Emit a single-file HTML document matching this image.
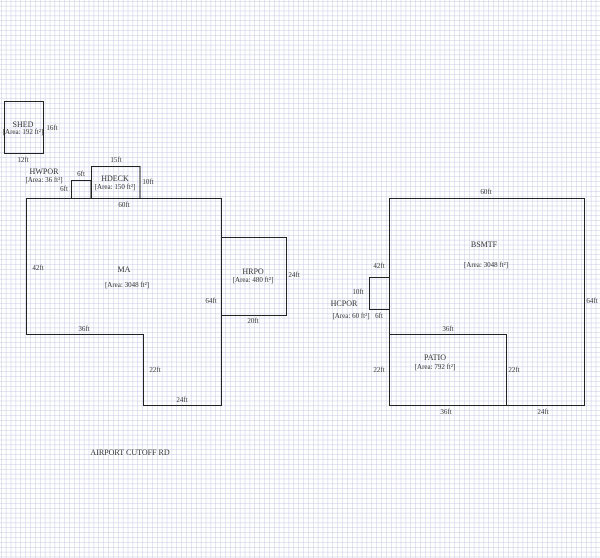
<!DOCTYPE html>
<html><head><meta charset="utf-8"><style>
html,body{margin:0;padding:0;background:#fff}
svg{display:block}
text{font-family:"Liberation Serif",serif;font-size:7px;fill:#333;text-anchor:middle}
.n{font-size:8px}
</style></head><body>
<svg width="600" height="558" xmlns="http://www.w3.org/2000/svg">
<defs><pattern id="g" x="1" y="1" width="4.875" height="4.875" patternUnits="userSpaceOnUse">
<path d="M0 0V4.875M0 0H4.875" stroke="#c6cae6" stroke-width="1" fill="none"/></pattern></defs>
<rect width="600" height="558" fill="url(#g)"/>
<g fill="none" stroke="#222" stroke-width="1">
<rect x="4.5" y="101.5" width="39" height="52"/>
<rect x="71.5" y="180.5" width="19.5" height="18"/>
<rect x="91.5" y="166.5" width="48.5" height="32"/>
<path d="M26.5 198.5H221.5V405.5H143.5V334.5H26.5Z"/>
<rect x="221.5" y="237.5" width="65" height="78"/>
<rect x="389.5" y="198.5" width="195" height="207"/>
<rect x="389.5" y="334.5" width="117" height="71"/>
<rect x="369.5" y="277.5" width="20" height="32"/>
</g>
<text class="n" x="23" y="127">SHED</text><text x="23" y="134">[Area: 192 ft²]</text>
<text x="52" y="130">16ft</text><text x="23" y="162">12ft</text>
<text class="n" x="44" y="174">HWPOR</text><text x="44" y="182">[Area: 36 ft²]</text>
<text x="81" y="176">6ft</text><text x="64" y="191">6ft</text>
<text x="116" y="162">15ft</text>
<text class="n" x="115" y="181">HDECK</text><text x="115" y="189">[Area: 150 ft²]</text>
<text x="148" y="184">10ft</text>
<text x="124" y="207">60ft</text>
<text x="38" y="270">42ft</text>
<text class="n" x="124" y="272">MA</text><text x="127" y="287">[Area: 3048 ft²]</text>
<text x="211" y="303">64ft</text>
<text x="84" y="331">36ft</text>
<text x="155" y="372">22ft</text>
<text x="182" y="402">24ft</text>
<text class="n" x="253" y="274">HRPO</text><text x="253" y="282">[Area: 480 ft²]</text>
<text x="294" y="277">24ft</text><text x="253" y="323">20ft</text>
<text x="130" y="455" class="n">AIRPORT CUTOFF RD</text>
<text x="486" y="194">60ft</text>
<text class="n" x="484" y="247">BSMTF</text><text x="486" y="267">[Area: 3048 ft²]</text>
<text x="379" y="268">42ft</text>
<text x="592" y="303">64ft</text>
<text x="358" y="294">10ft</text>
<text class="n" x="344" y="306">HCPOR</text><text x="351" y="318">[Area: 60 ft²]</text>
<text x="379" y="318">6ft</text>
<text x="448" y="331">36ft</text>
<text class="n" x="435" y="360">PATIO</text><text x="435" y="369">[Area: 792 ft²]</text>
<text x="379" y="372">22ft</text><text x="514" y="372">22ft</text>
<text x="446" y="414">36ft</text><text x="543" y="414">24ft</text>
</svg>
</body></html>
